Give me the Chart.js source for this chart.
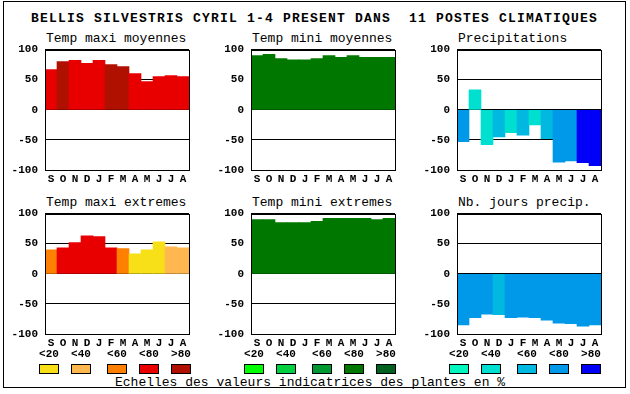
<!DOCTYPE html>
<html>
<head>
<meta charset="utf-8">
<script src="https://cdn.jsdelivr.net/npm/chart.js@4.4.1/dist/chart.umd.min.js"></script>
<style>
    body { margin: 0; background: #fff; }
    #page { position: relative; width: 630px; height: 394px; overflow: hidden; font-family: "Liberation Mono", "DejaVu Sans Mono", monospace; }
    #frame { position: absolute; left: 3px; top: 1px; width: 621px; height: 385px; border: 1px solid #000; }
    .txt { position: absolute; white-space: pre; color: #000; line-height: 1; }
    #titre { left: 31px; top: 12px; font-size: 13px; font-weight: bold; letter-spacing: 1.2px; }
    .sous { font-size: 13px; }
    .leg { font-size: 11px; font-weight: bold; text-align: center; width: 30px; }
    .box { position: absolute; width: 18px; height: 8px; border: 1px solid #000; }
    #echelle { left: 115px; top: 376px; font-size: 13px; }
    canvas { position: absolute; }
</style>
</head>
<body>
<div id="page">
    <div id="frame"></div>
    <div id="titre" class="txt">BELLIS SILVESTRIS CYRIL 1-4 PRESENT DANS  11 POSTES CLIMATIQUES</div>
    <div id="echelle" class="txt">Echelles des valeurs indicatrices des plantes en %</div>
</div>
<script>
var mois = ['S', 'O', 'N', 'D', 'J', 'F', 'M', 'A', 'M', 'J', 'J', 'A'];
var classes = ['<20', '<40', '<60', '<80', '>80'];
var titres = ['Temp maxi moyennes', 'Temp mini moyennes', 'Precipitations',
    'Temp maxi extremes', 'Temp mini extremes', 'Nb. jours precip.'];

var tempMaxiMoy = [67, 80, 82, 77, 82, 75, 72, 60, 47, 55, 57, 55];
var tempMaxiMoyCl = [3, 4, 3, 3, 3, 4, 4, 3, 3, 3, 3, 3];
var tempMiniMoy = [90, 92, 85, 83, 83, 85, 90, 87, 90, 87, 87, 87];
var tempMiniMoyCl = [3, 3, 3, 3, 3, 3, 3, 3, 3, 3, 3, 3];
var precip = [-53, 33, -58, -45, -38, -42, -25, -48, -87, -85, -88, -93];
var precipCl = [3, 1, 1, 2, 1, 2, 1, 2, 3, 3, 4, 4];
var tempMaxiExt = [40, 43, 52, 63, 62, 43, 42, 33, 40, 53, 45, 43];
var tempMaxiExtCl = [2, 3, 3, 3, 3, 3, 2, 0, 0, 0, 1, 1];
var tempMiniExt = [90, 90, 85, 85, 85, 87, 92, 92, 92, 92, 90, 92];
var tempMiniExtCl = [3, 3, 3, 3, 3, 3, 3, 3, 3, 3, 3, 3];
var nbJours = [-85, -73, -67, -68, -73, -72, -73, -77, -82, -83, -87, -85];
var nbJoursCl = [3, 3, 3, 2, 3, 3, 3, 3, 3, 3, 3, 3];

var rouges = ['#f8e018', '#ffb850', '#ff8000', '#e80000', '#b01000'];
var verts = ['#00ff00', '#00d040', '#009830', '#007800', '#006020'];
var bleus = ['#00f8c0', '#00e0d0', '#00b8e0', '#0098e8', '#0000f8'];

var graphes = [
    { valeurs: tempMaxiMoy, cl: tempMaxiMoyCl, pal: rouges },
    { valeurs: tempMiniMoy, cl: tempMiniMoyCl, pal: verts },
    { valeurs: precip, cl: precipCl, pal: bleus },
    { valeurs: tempMaxiExt, cl: tempMaxiExtCl, pal: rouges },
    { valeurs: tempMiniExt, cl: tempMiniExtCl, pal: verts },
    { valeurs: nbJours, cl: nbJoursCl, pal: bleus }
];

var page = document.getElementById('page');
var cadre = {
    id: 'cadre',
    afterDraw: function (chart) {
        var a = chart.chartArea;
        var ctx = chart.ctx;
        ctx.save();
        ctx.strokeStyle = '#000';
        ctx.lineWidth = 1;
        ctx.strokeRect(Math.round(a.left) + 0.5, Math.round(a.top) + 0.5,
            Math.round(a.right - a.left), Math.round(a.bottom - a.top));
        ctx.restore();
    }
};

function dessine(cv, g) {
    return new Chart(cv.getContext('2d'), {
        type: 'bar',
        data: {
            labels: mois,
            datasets: [{
                data: g.valeurs,
                backgroundColor: g.cl.map(function (c) { return g.pal[c]; }),
                borderWidth: 0,
                barPercentage: 1,
                categoryPercentage: 1
            }]
        },
        options: {
            responsive: false,
            animation: false,
            devicePixelRatio: 1,
            layout: { padding: { top: 8, right: 8, left: 0, bottom: 0 } },
            plugins: { legend: { display: false }, tooltip: { enabled: false } },
            scales: {
                x: {
                    grid: { display: false, drawTicks: false },
                    border: { display: false },
                    ticks: {
                        color: '#000', padding: 3, autoSkip: false, maxRotation: 0,
                        font: { family: 'Liberation Mono', size: 11, weight: 'bold' }
                    },
                    afterFit: function (s) { s.height = 16; }
                },
                y: {
                    min: -100,
                    max: 100,
                    z: 1,
                    grid: { color: '#000', lineWidth: 1, drawTicks: false },
                    border: { display: false },
                    ticks: {
                        stepSize: 50, color: '#000', padding: 7,
                        font: { family: 'Liberation Mono', size: 11, weight: 'bold' }
                    },
                    afterFit: function (s) { s.width = 45; }
                }
            }
        },
        plugins: [cadre]
    });
}

graphes.forEach(function (g, i) {
    var col = i % 3;
    var lig = Math.floor(i / 3);
    var plotLeft = 45 + col * 206;
    var plotTop = lig === 0 ? 50 : 214;

    var t = document.createElement('div');
    t.className = 'txt sous';
    t.style.left = (plotLeft + 1) + 'px';
    t.style.top = (plotTop - 18) + 'px';
    t.textContent = titres[i];
    page.appendChild(t);

    // ajuster le canvas pour que la zone de trace tombe au bon endroit
    var w = 197, h = 144, x0 = plotLeft - 45, y0 = plotTop - 8;
    for (var n = 0; n < 4; n++) {
        var cv = document.createElement('canvas');
        cv.width = w;
        cv.height = h;
        cv.style.left = x0 + 'px';
        cv.style.top = y0 + 'px';
        page.appendChild(cv);
        var chart = dessine(cv, g);
        var a = chart.chartArea;
        var dx = plotLeft - (x0 + Math.round(a.left));
        var dy = plotTop - (y0 + Math.round(a.top));
        var dw = 144 - Math.round(a.right - a.left);
        var dh = 120 - Math.round(a.bottom - a.top);
        if (!dx && !dy && !dw && !dh) break;
        if (n === 3) break;
        chart.destroy();
        page.removeChild(cv);
        x0 += dx; y0 += dy; w += dw; h += dh;
    }
});

var palettes = [rouges, verts, bleus];
var legGauche = [39, 71, 107, 139, 171];
palettes.forEach(function (pal, p) {
    classes.forEach(function (c, k) {
        var x = legGauche[k] + p * 205;
        var l = document.createElement('div');
        l.className = 'txt leg';
        l.style.left = (x - 5) + 'px';
        l.style.top = '349px';
        l.textContent = c;
        page.appendChild(l);
        var b = document.createElement('div');
        b.className = 'box';
        b.style.left = x + 'px';
        b.style.top = '364px';
        b.style.background = pal[k];
        page.appendChild(b);
    });
});
</script>
</body>
</html>
